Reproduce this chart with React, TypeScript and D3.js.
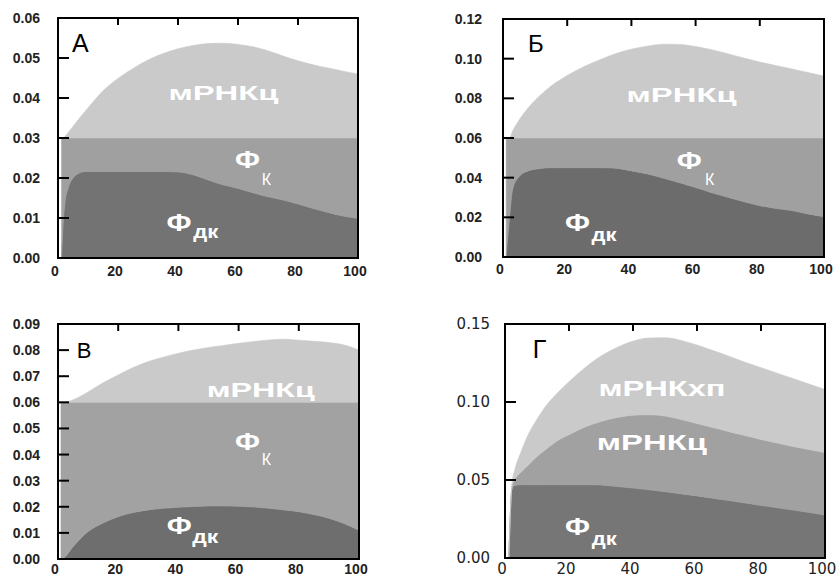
import { useEffect, useRef } from 'react'
import * as d3 from 'd3'

const W = 839
const H = 577
const FONT = '"Liberation Sans", Arial, Helvetica, sans-serif'

// Panel А: top boundaries of each band (Фдк, Фк, мРНКц)
const aX = [1.2, 1.8, 2.3, 3.4, 5, 7, 9, 15, 20, 25, 30, 35, 40, 45, 50, 55, 60, 65, 70, 75, 80, 85, 90, 95, 100]
const aDk = [0, 0.0095, 0.0137, 0.0175, 0.02, 0.0212, 0.0216, 0.0216, 0.0216, 0.0216, 0.0216, 0.0216, 0.0215, 0.0208, 0.0195, 0.0183, 0.0174, 0.0163, 0.0153, 0.0145, 0.0135, 0.0124, 0.0114, 0.0105, 0.0099]
const aK = [0.03, 0.03, 0.03, 0.03, 0.03, 0.03, 0.03, 0.03, 0.03, 0.03, 0.03, 0.03, 0.03, 0.03, 0.03, 0.03, 0.03, 0.03, 0.03, 0.03, 0.03, 0.03, 0.03, 0.03, 0.03]
const aM = [0.03, 0.03, 0.0304, 0.0314, 0.0329, 0.0348, 0.0366, 0.0418, 0.0449, 0.0474, 0.0495, 0.0511, 0.0523, 0.0531, 0.0536, 0.0537, 0.0534, 0.0528, 0.0518, 0.0505, 0.0493, 0.0483, 0.0475, 0.0467, 0.046]

// Panel Б
const bX = [1, 2, 3, 5, 8, 10, 15, 20, 25, 30, 35, 40, 45, 50, 55, 60, 65, 70, 75, 80, 85, 90, 95, 100]
const bDk = [0, 0.019, 0.034, 0.0405, 0.0435, 0.0442, 0.045, 0.045, 0.045, 0.045, 0.0448, 0.0434, 0.0419, 0.0397, 0.0375, 0.035, 0.0324, 0.0301, 0.0279, 0.0259, 0.0245, 0.0234, 0.0217, 0.0203]
const bK = [0.06, 0.06, 0.06, 0.06, 0.06, 0.06, 0.06, 0.06, 0.06, 0.06, 0.06, 0.06, 0.06, 0.06, 0.06, 0.06, 0.06, 0.06, 0.06, 0.06, 0.06, 0.06, 0.06, 0.06]
const bM = [0.06, 0.06, 0.0635, 0.069, 0.0755, 0.079, 0.0862, 0.0915, 0.0958, 0.0993, 0.1025, 0.1048, 0.1063, 0.1073, 0.1072, 0.1061, 0.1045, 0.1025, 0.1003, 0.0983, 0.0965, 0.0948, 0.093, 0.0912]

// Panel В
const cX = [1, 2, 5, 10, 15, 20, 25, 30, 35, 40, 45, 50, 55, 60, 65, 70, 75, 80, 85, 90, 95, 100]
const cDk = [0, 0.0005, 0.0047, 0.0105, 0.0138, 0.0162, 0.0178, 0.0188, 0.0194, 0.0198, 0.0201, 0.0203, 0.0203, 0.0202, 0.0199, 0.0194, 0.0188, 0.0181, 0.017, 0.0156, 0.0136, 0.011]
const cK = [0.06, 0.06, 0.06, 0.06, 0.06, 0.06, 0.06, 0.06, 0.06, 0.06, 0.06, 0.06, 0.06, 0.06, 0.06, 0.06, 0.06, 0.06, 0.06, 0.06, 0.06, 0.06]
const cM = [0.06, 0.06, 0.061, 0.064, 0.0675, 0.0705, 0.0733, 0.0756, 0.0773, 0.0788, 0.08, 0.081, 0.0818, 0.0826, 0.0833, 0.0839, 0.0842, 0.0838, 0.0834, 0.0829, 0.082, 0.08]

// Panel Г: Фдк, мРНКц, мРНКхп
const dX = [1.2, 2.2, 3, 5, 7, 10, 13, 17, 20, 25, 30, 35, 40, 45, 50, 55, 60, 65, 70, 75, 80, 85, 90, 95, 100]
const dDk = [0, 0.044, 0.0465, 0.047, 0.047, 0.047, 0.047, 0.047, 0.047, 0.047, 0.0468, 0.0458, 0.0448, 0.0437, 0.0425, 0.0411, 0.0398, 0.0383, 0.0368, 0.0353, 0.0337, 0.0322, 0.0307, 0.0292, 0.0275]
const dC = [0, 0.046, 0.05, 0.055, 0.059, 0.065, 0.07, 0.076, 0.079, 0.084, 0.0875, 0.09, 0.0915, 0.0918, 0.091, 0.0888, 0.0862, 0.0836, 0.081, 0.0785, 0.076, 0.0737, 0.0715, 0.0695, 0.0675]
const dXp = [0, 0.048, 0.056, 0.068, 0.078, 0.089, 0.098, 0.107, 0.113, 0.122, 0.1295, 0.135, 0.139, 0.141, 0.1412, 0.1395, 0.1365, 0.133, 0.1293, 0.1255, 0.122, 0.1185, 0.115, 0.1115, 0.108]

const X_TICKS = [0, 20, 40, 60, 80, 100]
const aYTicks = [0, 0.01, 0.02, 0.03, 0.04, 0.05, 0.06]
const bYTicks = [0, 0.02, 0.04, 0.06, 0.08, 0.1, 0.12]
const cYTicks = [0, 0.01, 0.02, 0.03, 0.04, 0.05, 0.06, 0.07, 0.08, 0.09]
const dYTicks = [0, 0.05, 0.1, 0.15]

interface Label { text: string; x: number; y: number; size: number; bold?: boolean; len?: number; fill?: string }

interface Panel {
  box: { l: number; r: number; t: number; b: number }
  yMax: number
  yTicks: number[]
  xs: number[]
  bands: number[][]
  colors: string[]
  labels: Label[]
  tickFont: string
  tickSize: number
  tickWeight: string
  yLabelGap: number
  xLabelDy: number
}

const panels: Panel[] = [
  {
    box: { l: 58, r: 358, t: 18, b: 258 }, yMax: 0.06, yTicks: aYTicks,
    xs: aX, bands: [aDk, aK, aM], colors: ['#737373', '#a0a0a0', '#cacaca'],
    labels: [
      { text: 'А', x: 4.7, y: 0.0516, size: 25, fill: '#000' },
      { text: 'мРНКц', x: 36.8, y: 0.0395, size: 21, bold: true, len: 110 },
      { text: 'Ф', x: 59, y: 0.0225, size: 24, bold: true, len: 25 },
      { text: 'К', x: 67.9, y: 0.0183, size: 16 },
      { text: 'Ф', x: 36.2, y: 0.0068, size: 24, bold: true, len: 25 },
      { text: 'дк', x: 45.1, y: 0.0049, size: 18, bold: true, len: 25 },
    ],
    tickFont: FONT, tickSize: 14, tickWeight: 'bold', yLabelGap: 18, xLabelDy: 17.5,
  },
  {
    box: { l: 503, r: 824, t: 19, b: 257 }, yMax: 0.12, yTicks: bYTicks,
    xs: bX, bands: [bDk, bK, bM], colors: ['#6c6c6c', '#a0a0a0', '#cacaca'],
    labels: [
      { text: 'Б', x: 7.8, y: 0.1035, size: 24, fill: '#000' },
      { text: 'мРНКц', x: 38.5, y: 0.0784, size: 21, bold: true, len: 110 },
      { text: 'Ф', x: 54.1, y: 0.0444, size: 24, bold: true, len: 25 },
      { text: 'К', x: 62.9, y: 0.0363, size: 16 },
      { text: 'Ф', x: 19.3, y: 0.0129, size: 24, bold: true, len: 25 },
      { text: 'дк', x: 27.6, y: 0.0081, size: 18, bold: true, len: 25 },
    ],
    tickFont: FONT, tickSize: 14, tickWeight: 'bold', yLabelGap: 21, xLabelDy: 17,
  },
  {
    box: { l: 58, r: 359, t: 324, b: 559 }, yMax: 0.09, yTicks: cYTicks,
    xs: cX, bands: [cDk, cK, cM], colors: ['#6e6e6e', '#a2a2a2', '#cacaca'],
    labels: [
      { text: 'В', x: 6.2, y: 0.0769, size: 22, fill: '#000' },
      { text: 'мРНКц', x: 49.4, y: 0.0622, size: 21, bold: true, len: 108 },
      { text: 'Ф', x: 58.8, y: 0.0419, size: 24, bold: true, len: 25 },
      { text: 'К', x: 67.7, y: 0.036, size: 16 },
      { text: 'Ф', x: 36.1, y: 0.0094, size: 24, bold: true, len: 25 },
      { text: 'дк', x: 44.6, y: 0.006, size: 18, bold: true, len: 26 },
    ],
    tickFont: FONT, tickSize: 14, tickWeight: 'bold', yLabelGap: 18, xLabelDy: 15,
  },
  {
    box: { l: 505, r: 825, t: 324, b: 558 }, yMax: 0.15, yTicks: dYTicks,
    xs: dX, bands: [dDk, dC, dXp], colors: ['#767676', '#a1a1a1', '#cacaca'],
    labels: [
      { text: 'Г', x: 8.7, y: 0.128, size: 25, fill: '#000' },
      { text: 'мРНКхп', x: 29.2, y: 0.1038, size: 22, bold: true, len: 127 },
      { text: 'мРНКц', x: 28.7, y: 0.0692, size: 22, bold: true, len: 110 },
      { text: 'Ф', x: 18.75, y: 0.0147, size: 24, bold: true, len: 25 },
      { text: 'дк', x: 27.1, y: 0.0083, size: 18, bold: true, len: 25 },
    ],
    tickFont: '"DejaVu Sans", Verdana, sans-serif', tickSize: 15, tickWeight: 'normal', yLabelGap: 15, xLabelDy: 15.5,
  },
]

export default function App() {
  const svgRef = useRef<SVGSVGElement>(null)

  useEffect(() => {
    if (!svgRef.current) return
    const svg = d3.select(svgRef.current)
    svg.selectAll('*').remove()

    svg.append('rect').attr('width', W).attr('height', H).attr('fill', '#fff')

    panels.forEach((p, pi) => {
      const { l, r, t, b } = p.box
      const x = d3.scaleLinear().domain([0, 100]).range([l, r])
      const y = d3.scaleLinear().domain([0, p.yMax]).range([b, t])
      const g = svg.append('g')

      g.append('clipPath').attr('id', `clip-${pi}`)
        .append('rect').attr('x', l).attr('y', t).attr('width', r - l).attr('height', b - t)

      const plot = g.append('g').attr('clip-path', `url(#clip-${pi})`)

      // stacked bands, each between the previous boundary and its own
      p.bands.forEach((top, i) => {
        const bottom = i === 0 ? null : p.bands[i - 1]
        const area = d3.area<number>()
          .x((_, j) => x(p.xs[j]))
          .y0((_, j) => y(bottom ? bottom[j] : 0))
          .y1((_, j) => y(top[j]))
          .curve(d3.curveMonotoneX)
        plot.append('path')
          .datum(p.xs)
          .attr('d', area)
          .attr('fill', p.colors[i])
          .attr('stroke', p.colors[i])
          .attr('stroke-width', 0.6)
      })

      // labels inside the plot
      p.labels.forEach(lb => {
        const txt = g.append('text')
          .attr('x', x(lb.x))
          .attr('y', y(lb.y))
          .attr('fill', lb.fill ?? '#fff')
          .attr('font-family', FONT)
          .attr('font-size', lb.size)
          .attr('font-weight', lb.bold ? 'bold' : 'normal')
          .text(lb.text)
        if (lb.len) txt.attr('textLength', lb.len).attr('lengthAdjust', 'spacingAndGlyphs')
      })

      // frame
      g.append('rect')
        .attr('x', l).attr('y', t)
        .attr('width', r - l).attr('height', b - t)
        .attr('fill', 'none').attr('stroke', '#000').attr('stroke-width', 2)

      // inward ticks: left and top
      p.yTicks.filter(v => v > 0 && v < p.yMax).forEach(v => {
        g.append('line')
          .attr('x1', l).attr('x2', l + 11)
          .attr('y1', y(v)).attr('y2', y(v))
          .attr('stroke', '#000').attr('stroke-width', 2)
      })
      X_TICKS.filter(v => v > 0 && v < 100).forEach(v => {
        g.append('line')
          .attr('x1', x(v)).attr('x2', x(v))
          .attr('y1', t).attr('y2', t + 7)
          .attr('stroke', '#000').attr('stroke-width', 2)
      })

      // tick labels
      const fmt = d3.format('.2f')
      p.yTicks.forEach(v => {
        g.append('text')
          .attr('x', l - p.yLabelGap)
          .attr('y', y(v))
          .attr('dy', '0.36em')
          .attr('text-anchor', 'end')
          .attr('font-family', p.tickFont)
          .attr('font-size', p.tickSize)
          .attr('font-weight', p.tickWeight)
          .attr('fill', '#222')
          .text(fmt(v))
      })
      X_TICKS.forEach(v => {
        g.append('text')
          .attr('x', x(v) - 3)
          .attr('y', b + p.xLabelDy)
          .attr('text-anchor', 'middle')
          .attr('font-family', p.tickFont)
          .attr('font-size', p.tickSize)
          .attr('font-weight', p.tickWeight)
          .attr('fill', '#222')
          .text(String(v))
      })
    })
  }, [])

  return (
    <svg
      ref={svgRef}
      width={W}
      height={H}
      style={{ position: 'absolute', left: 0, top: 0, display: 'block' }}
    />
  )
}
